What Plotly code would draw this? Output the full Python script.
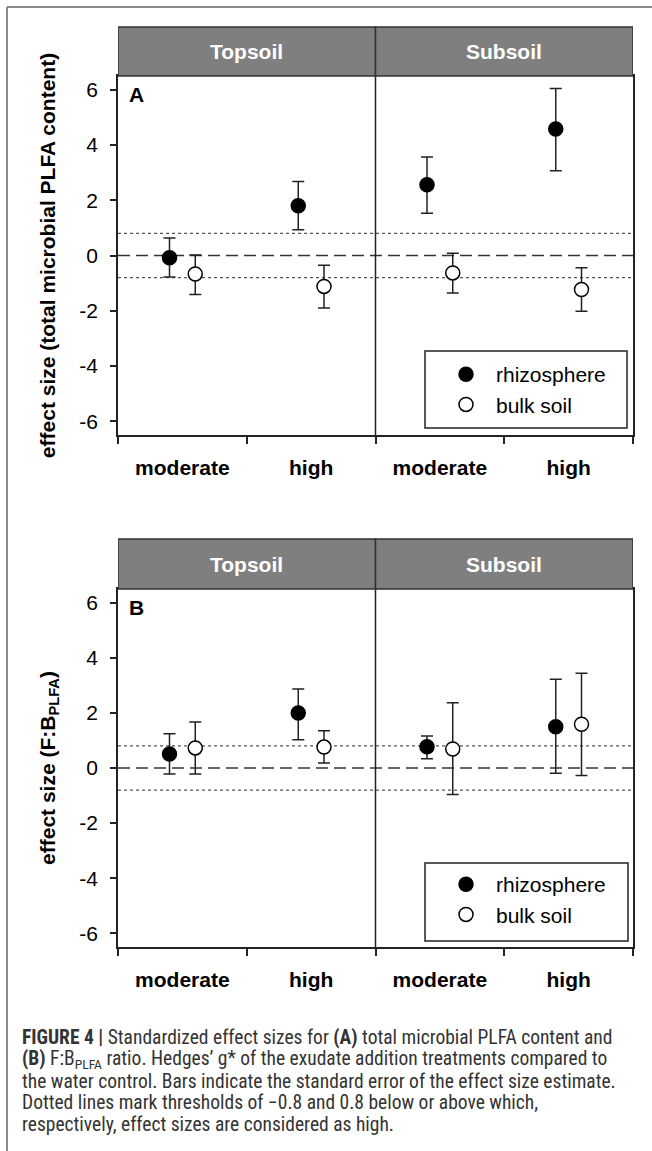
import plotly.graph_objects as go

# ---------------- data ----------------
soils = ["Topsoil", "Subsoil"]
levels = ["moderate", "high"]
groups = ["rhizosphere", "bulk soil"]

# order of the four points: Topsoil-moderate, Topsoil-high, Subsoil-moderate, Subsoil-high
# Panel A: total microbial PLFA content
a_rhizo = [-0.08, 1.80, 2.56, 4.58]
a_rhizo_lo = [-0.78, 0.93, 1.53, 3.07]
a_rhizo_hi = [0.63, 2.68, 3.57, 6.05]
a_bulk = [-0.67, -1.12, -0.63, -1.23]
a_bulk_lo = [-1.41, -1.90, -1.36, -2.02]
a_bulk_hi = [0.02, -0.35, 0.08, -0.44]

# Panel B: F:B PLFA ratio
b_rhizo = [0.51, 2.00, 0.77, 1.50]
b_rhizo_lo = [-0.22, 1.03, 0.34, -0.19]
b_rhizo_hi = [1.24, 2.87, 1.16, 3.22]
b_bulk = [0.73, 0.76, 0.69, 1.59]
b_bulk_lo = [-0.22, 0.18, -0.96, -0.27]
b_bulk_hi = [1.67, 1.35, 2.37, 3.44]

threshold = 0.8
y_ticks = [-6, -4, -2, 0, 2, 4, 6]
y_ticktext = ["-6", "-4", "-2", "0", "2", "4", "6"]

# ---------------- layout helpers ----------------
W, H = 652, 1151
FONT = "Liberation Sans"
CAP_FONT = "Roboto Condensed, Liberation Sans, sans-serif"


def px(x):
    return x / W


def py(y):
    return 1 - y / H


n_cat = len(soils) * len(levels)
centers = [i + 0.5 for i in range(n_cat)]
dodge = 0.1

fig = go.Figure()

panels = [
    dict(name="A", xa="x", ya="y", legend="legend",
         data=[(a_rhizo, a_rhizo_lo, a_rhizo_hi), (a_bulk, a_bulk_lo, a_bulk_hi)],
         top=76, bottom=435, strip_top=27),
    dict(name="B", xa="x2", ya="y2", legend="legend2",
         data=[(b_rhizo, b_rhizo_lo, b_rhizo_hi), (b_bulk, b_bulk_lo, b_bulk_hi)],
         top=589, bottom=947, strip_top=539),
]

marker_styles = [
    dict(color="black", size=14, line=dict(color="black", width=1.5)),
    dict(color="white", size=14, line=dict(color="black", width=1.5)),
]

for p in panels:
    for gi, (g, (est, lo, hi)) in enumerate(zip(groups, p["data"])):
        xs = [c + (-dodge if gi == 0 else dodge) for c in centers]
        fig.add_trace(go.Scatter(
            x=xs, y=est, mode="markers", name=g,
            xaxis=p["xa"], yaxis=p["ya"], legend=p["legend"],
            marker=marker_styles[gi],
            error_y=dict(type="data", symmetric=False,
                         array=[h - e for h, e in zip(hi, est)],
                         arrayminus=[e - l for e, l in zip(est, lo)],
                         color="#222", thickness=1.5, width=6),
            showlegend=True,
        ))

axis_common = dict(showline=True, mirror=True, linecolor="#222", linewidth=1.5,
                   showgrid=False, zeroline=False)

shapes = []
annotations = []
for k, p in enumerate(panels):
    sfx = "" if k == 0 else "2"
    xd = [px(118), px(633)]
    yd = [py(p["bottom"]), py(p["top"])]
    fig.layout["xaxis" + sfx] = dict(
        axis_common, domain=xd, range=[0, n_cat], anchor="y" + sfx,
        tickvals=centers, ticktext=levels * len(soils), ticks="",
        tickfont=dict(family=FONT, size=21, color="black", weight="bold"),
        ticklabelstandoff=13,
        minor=dict(tickvals=list(range(n_cat + 1)), ticks="outside", ticklen=7,
                   tickwidth=1.5, tickcolor="#222"),
    )
    title_txt = ("effect size (total microbial PLFA content)" if k == 0
                 else "effect size (F:B<sub>PLFA</sub>)")
    fig.layout["yaxis" + sfx] = dict(
        axis_common, domain=yd, range=[-6.5, 6.5], anchor="x" + sfx,
        tickvals=y_ticks, ticktext=y_ticktext, ticks="outside", ticklen=6, tickwidth=1.5,
        tickcolor="#222", ticklabelstandoff=8,
        tickfont=dict(family=FONT, size=21, color="black"),
        title=dict(text=title_txt, standoff=18,
                   font=dict(family=FONT, size=21, color="black", weight="bold")),
    )
    xr, yr = "x" + sfx, "y" + sfx
    for t in (threshold, -threshold):
        shapes.append(dict(type="line", xref=xr, yref=yr, x0=0, x1=n_cat, y0=t, y1=t,
                           line=dict(color="#555", width=1.2, dash="dot"), layer="below"))
    shapes.append(dict(type="line", xref=xr, yref=yr, x0=0, x1=n_cat, y0=0, y1=0,
                       line=dict(color="#333", width=1.5, dash="12px,6px"), layer="below"))
    shapes.append(dict(type="line", xref=xr, yref=yr + " domain", x0=2, x1=2, y0=0, y1=1,
                       line=dict(color="#222", width=1.5)))
    for si, s in enumerate(soils):
        shapes.append(dict(type="rect", xref=xr, yref="paper", x0=si * 2, x1=si * 2 + 2,
                           y0=py(p["top"]), y1=py(p["strip_top"]),
                           fillcolor="#7f7f7f", line=dict(color="#333", width=1.5)))
        annotations.append(dict(xref=xr, yref="paper", x=si * 2 + 1,
                                y=(py(p["top"]) + py(p["strip_top"])) / 2,
                                xanchor="center", yanchor="middle",
                                text=s, showarrow=False,
                                font=dict(family=FONT, size=21, color="white", weight="bold")))
    annotations.append(dict(xref=xr + " domain", yref=yr + " domain", x=0.018, y=0.985,
                            xanchor="left", yanchor="top", text="<b>%s</b>" % p["name"],
                            showarrow=False, font=dict(family=FONT, size=21, color="black")))

leg_boxes = [(425, 627, 351, 428), (425, 628, 863, 941)]
for (x0, x1, y0, y1) in leg_boxes:
    shapes.append(dict(type="rect", xref="paper", yref="paper", x0=px(x0), x1=px(x1),
                       y0=py(y1), y1=py(y0), line=dict(color="#222", width=1.5),
                       fillcolor="rgba(0,0,0,0)"))

legend_common = dict(font=dict(family=FONT, size=21, color="black"), bgcolor="rgba(0,0,0,0)",
                     borderwidth=0, xanchor="left", yanchor="top", itemwidth=50,
                     tracegroupgap=0)
fig.update_layout(
    legend=dict(legend_common, x=px(436), y=py(354)),
    legend2=dict(legend_common, x=px(436), y=py(864)),
)

shapes.append(dict(type="line", xref="paper", yref="paper", x0=px(7), x1=1, y0=py(7), y1=py(7),
                   line=dict(color="#8a8a8a", width=2)))
shapes.append(dict(type="line", xref="paper", yref="paper", x0=px(7), x1=px(7), y0=0, y1=py(7),
                   line=dict(color="#8a8a8a", width=2)))

caption = [
    "<b>FIGURE 4 |</b> Standardized effect sizes for <b>(A)</b> total microbial PLFA content and",
    "<b>(B)</b> F:B<sub>PLFA</sub> ratio. Hedges\u2019 g* of the exudate addition treatments compared to",
    "the water control. Bars indicate the standard error of the effect size estimate.",
    "Dotted lines mark thresholds of \u22120.8 and 0.8 below or above which,",
    "respectively, effect sizes are considered as high.",
]
cap_y = [1037, 1059, 1081, 1102, 1124]
for line, yy in zip(caption, cap_y):
    annotations.append(dict(xref="paper", yref="paper", x=px(20), y=py(yy), xanchor="left",
                            yanchor="middle", text=line, showarrow=False,
                            font=dict(family=CAP_FONT, size=19.5, color="#333")))

fig.update_layout(
    width=W, height=H, margin=dict(l=0, r=0, t=0, b=0),
    paper_bgcolor="white", plot_bgcolor="white",
    shapes=shapes, annotations=annotations,
    font=dict(family=FONT, color="black"),
)

fig.write_html("out.html")
